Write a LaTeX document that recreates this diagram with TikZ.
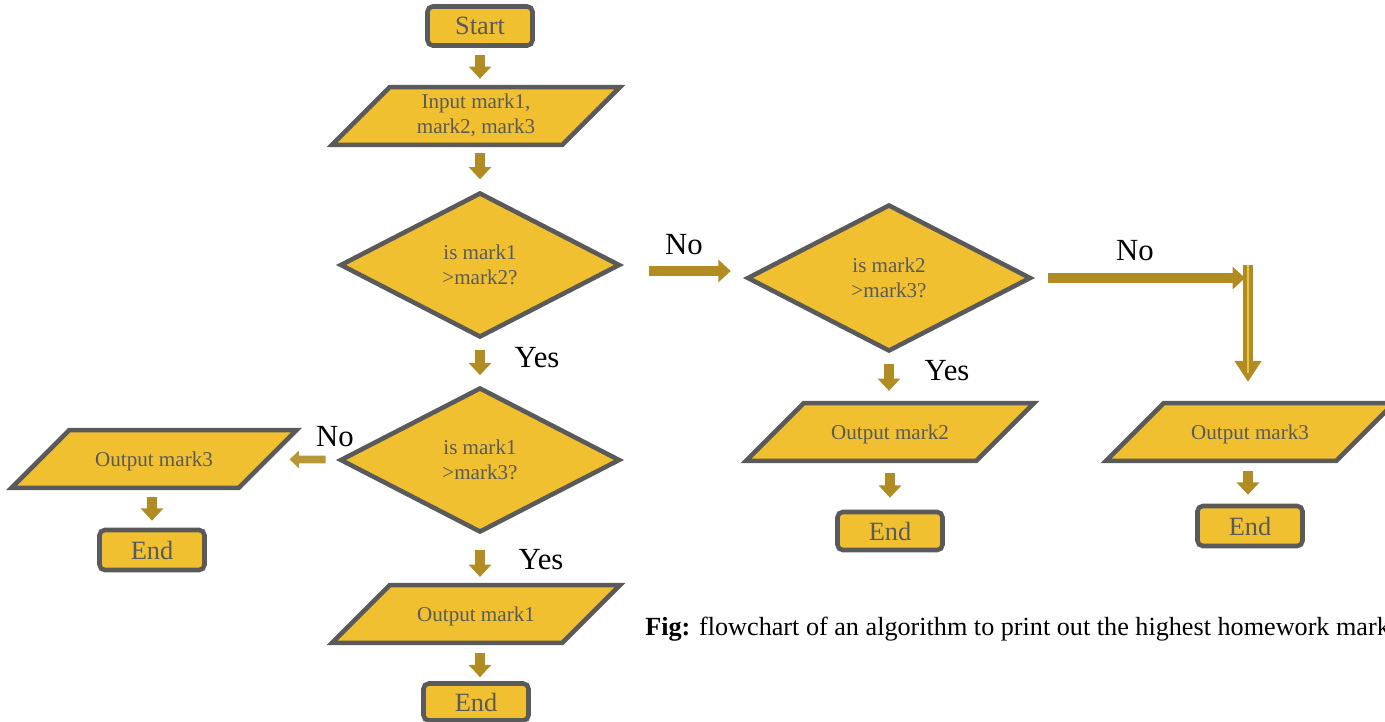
\documentclass[tikz,border=0pt]{standalone}
\usepackage{fontspec}
\setmainfont{Liberation Serif}
\usetikzlibrary{shapes.geometric,arrows.meta}
\definecolor{boxfill}{HTML}{F0C030}
\definecolor{boxline}{HTML}{5A5A5A}
\definecolor{flowgold}{HTML}{B08C22}
\definecolor{flowlight}{HTML}{E8C640}
\begin{document}
\begin{tikzpicture}[x=0.02cm,y=-0.02cm,
  every node/.style={font=\fontsize{12}{14}\selectfont, text=boxline, align=center},
  terminal/.style={draw=boxline, fill=boxfill, line width=2.6pt, rounded corners=3pt,
    inner sep=0pt, minimum width=2.1cm, minimum height=0.78cm, font=\fontsize{15}{17}\selectfont},
  io/.style={trapezium, trapezium left angle=45, trapezium right angle=135,
    trapezium stretches body=true, draw=boxline, fill=boxfill, line width=2.6pt,
    inner sep=0pt, text height=20.4pt, text depth=12.4pt, minimum width=5.76cm},
  twolines/.style={text height=26.2pt, text depth=6.7pt},
  decision/.style={diamond, draw=boxline, fill=boxfill, line width=2.6pt,
    inner sep=0pt, minimum width=5.6cm, minimum height=2.9cm},
  flow/.style={draw=flowgold, line width=5.6pt, -{Triangle[width=12.5pt,length=7pt]}},
  answer/.style={font=\fontsize{17.5}{20}\selectfont, text=black}
]
\useasboundingbox (0,0) rectangle (1385,721);

% Left column: start, input, first two tests
\node [terminal] (start) at (480,26) {Start};
\node [io, twolines] (input) at (476,116) {Input mark1,\\mark2, mark3};
\node [decision] (dec1) at (480,265) {is mark1\\>mark2?};
\node [decision] (dec3) at (480,460) {is mark1\\>mark3?};
\node [io] (out1) at (476,614) {Output mark1};
\node [terminal, minimum height=0.74cm] (end2) at (476,702) {End};

% Far left: mark3 branch of second test
\node [io, minimum width=5.7cm] (out3a) at (154,459) {Output mark3};
\node [terminal, minimum height=0.8cm] (end1) at (152,550) {End};

% Middle column: test mark2 against mark3
\node [decision, minimum width=5.68cm, minimum height=2.94cm] (dec2) at (889,278) {is mark2\\>mark3?};
\node [io] (out2) at (890,432) {Output mark2};
\node [terminal, minimum height=0.76cm] (end3) at (890,531) {End};

% Right column
\node [io] (out3b) at (1250,432) {Output mark3};
\node [terminal, minimum height=0.8cm] (end4) at (1250,526) {End};
\coordinate (elbow) at (1248,265);

% Drawing flow arrows
\draw [flow, shorten <=4pt, shorten >=3.4pt] (start.south) -- (start.south |- input.north);
\draw [flow, shorten <=3.4pt, shorten >=6.2pt] (dec1.north |- input.south) -- (dec1.north);
\draw [flow, shorten <=5.7pt, shorten >=5.7pt] (dec1) -- (dec3);
\draw [flow, shorten <=8.5pt, shorten >=3.4pt] (dec3.south) -- (dec3.south |- out1.north);
\draw [flow, shorten <=4.5pt, shorten >=2.3pt] (dec3.south |- out1.south) -- (dec3.south |- end2.north);
\draw [flow, draw=flowgold!90!white, line width=4.5pt, -{Triangle[width=10pt,length=5.5pt]},
  shorten <=7.4pt, shorten >=10.8pt] (dec3) -- (out3a);
\draw [flow, shorten <=4pt, shorten >=4pt] (end1.north |- out3a.south) -- (end1.north);
\draw [flow, shorten <=15.3pt, shorten >=8pt] ([yshift=-3.4pt]dec1.east) -- ([yshift=-3.4pt]dec1.east -| dec2.west);
\draw [flow, shorten <=5.7pt, shorten >=5.7pt] (dec2) -- (dec2 |- out2.north);
\draw [flow, shorten <=5.7pt, shorten >=6.8pt] (out2) -- (end3);
\draw [flow, shorten <=4.5pt, shorten >=5.1pt] (elbow |- out3b.south) -- (elbow |- end4.north);
\draw [flow, shorten <=8.5pt, shorten >=1.7pt] (dec2.east) -- (dec2.east -| elbow);
\draw [flow, line width=6pt, -{Triangle[width=14.7pt,length=12pt]}, shorten >=10.8pt] (elbow) -- (elbow |- out3b.north);
\draw [flowlight, line width=1.2pt, shorten >=16pt] (elbow) -- (elbow |- out3b.north);

% Marking answers
\node [answer] (no1) at (684,245) {No};
\node [answer] (no2) at (1135,251) {No};
\node [answer] (no3) at (335,437) {No};
\node [answer] (yes1) at (537,358) {Yes};
\node [answer] (yes2) at (541,560) {Yes};
\node [answer] (yes3) at (947,371) {Yes};

% Caption
\node [anchor=west, text=black, inner sep=0pt, font=\fontsize{14.9}{17}\selectfont] (caption) at (645,629)
  {\textbf{Fig:} flowchart of an algorithm to print out the highest homework mark};
\end{tikzpicture}
\end{document}
